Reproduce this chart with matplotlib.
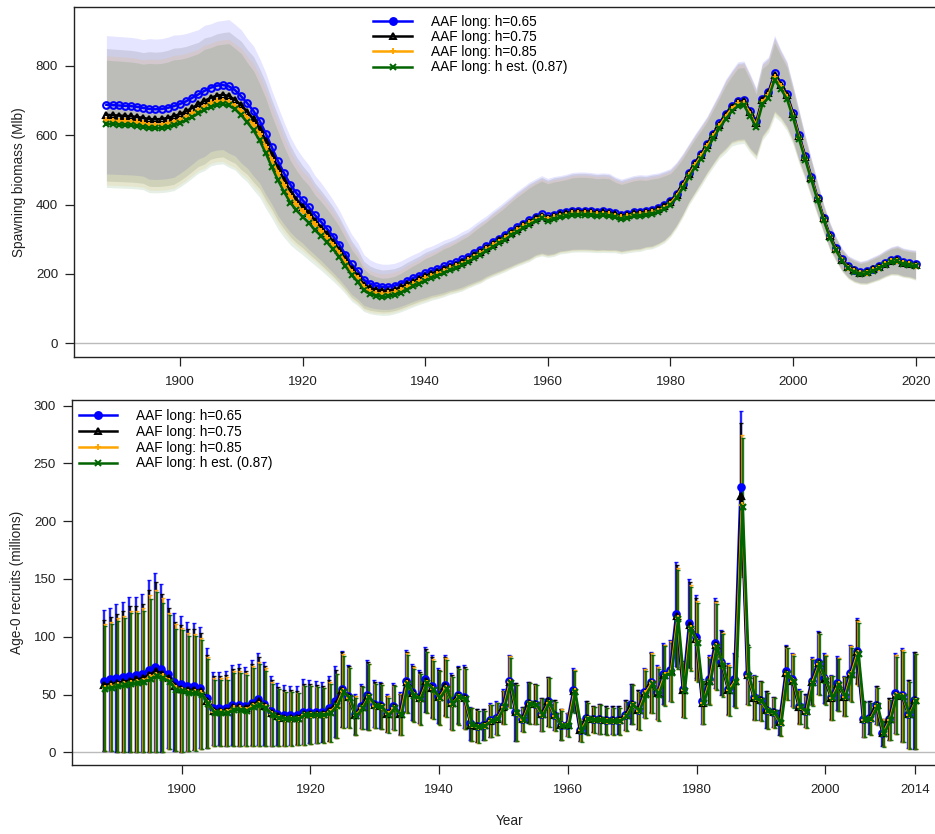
import numpy as np
import matplotlib
matplotlib.use("Agg")
import matplotlib.pyplot as plt
from matplotlib.lines import Line2D

plt.rcParams['font.family'] = ['Liberation Sans', 'DejaVu Sans']

# ---------------- data: spawning biomass (Mlb), 1888-2020 ----------------
ssb_years = np.arange(1888, 2021)

ssb_h65 = [688, 687, 686, 685, 684, 682, 679, 676, 675, 676,
           679, 684, 690, 698, 708, 718, 728, 737, 743, 745,
           741, 730, 712, 692, 670, 642, 605, 565, 525, 490,
           458, 433, 413, 393, 370, 351, 330, 308, 284, 256,
           228, 209, 183, 172, 166, 163, 163, 166, 172, 180,
           188, 195, 203, 209, 215, 222, 228, 234, 242, 250,
           260, 270, 281, 292, 302, 313, 324, 335, 345, 355,
           365, 372, 366, 370, 375, 378, 382, 383, 383, 382,
           380, 381, 380, 375, 370, 374, 378, 380, 382, 385,
           390, 398, 410, 432, 460, 492, 520, 547, 575, 605,
           635, 662, 685, 700, 702, 670, 640, 705, 725, 779,
           750, 720, 665, 600, 540, 480, 420, 362, 312, 275,
           243, 222, 212, 206, 208, 215, 222, 232, 240, 242,
           235, 232, 228]
ssb_h75 = [659, 658, 657, 656, 655, 653, 650, 647, 646, 647,
           650, 655, 661, 669, 679, 689, 699, 708, 714, 717,
           713, 702, 686, 667, 646, 619, 583, 544, 505, 471,
           439, 414, 394, 375, 353, 334, 314, 293, 269, 242,
           214, 195, 169, 159, 154, 151, 152, 155, 161, 170,
           178, 186, 194, 201, 207, 214, 221, 227, 235, 243,
           254, 264, 275, 287, 297, 308, 319, 331, 341, 351,
           361, 368, 362, 367, 372, 375, 379, 380, 380, 379,
           377, 378, 377, 372, 367, 371, 375, 377, 379, 382,
           387, 395, 407, 429, 457, 489, 517, 544, 572, 602,
           631, 658, 681, 696, 698, 666, 636, 701, 721, 774,
           746, 716, 661, 597, 537, 477, 418, 360, 310, 273,
           241, 220, 210, 204, 206, 213, 220, 230, 238, 240,
           233, 230, 226]
ssb_h85 = [643, 642, 641, 640, 639, 637, 634, 631, 630, 631,
           634, 639, 645, 653, 663, 673, 683, 692, 698, 700,
           696, 685, 670, 651, 630, 603, 567, 528, 490, 456,
           425, 401, 381, 365, 343, 325, 305, 284, 261, 234,
           206, 187, 161, 150, 145, 143, 144, 148, 154, 163,
           171, 179, 188, 195, 201, 209, 216, 222, 230, 239,
           250, 260, 271, 283, 293, 304, 316, 327, 337, 347,
           357, 365, 359, 363, 368, 371, 375, 376, 376, 375,
           373, 374, 373, 368, 363, 367, 371, 373, 375, 378,
           383, 391, 403, 425, 453, 485, 513, 540, 568, 598,
           627, 654, 677, 692, 694, 662, 630, 696, 716, 769,
           741, 711, 657, 593, 533, 474, 415, 357, 307, 270,
           239, 218, 208, 202, 204, 211, 218, 228, 236, 238,
           231, 228, 224]
ssb_hest = [633, 632, 631, 630, 629, 627, 624, 621, 620, 621,
            624, 629, 635, 643, 653, 663, 673, 682, 688, 690,
            686, 675, 658, 637, 614, 585, 548, 508, 470, 436,
            406, 384, 365, 348, 327, 310, 291, 271, 249, 223,
            196, 178, 153, 142, 137, 134, 135, 139, 146, 155,
            164, 172, 181, 188, 195, 203, 210, 217, 225, 234,
            245, 255, 267, 278, 288, 299, 311, 322, 332, 342,
            353, 360, 354, 358, 363, 366, 370, 371, 371, 370,
            368, 369, 368, 363, 358, 362, 366, 368, 370, 373,
            378, 386, 398, 420, 447, 479, 507, 533, 561, 591,
            620, 646, 669, 684, 686, 655, 624, 689, 708, 760,
            734, 705, 651, 588, 529, 470, 412, 355, 305, 268,
            237, 216, 206, 200, 202, 209, 216, 226, 234, 236,
            229, 226, 222]
# relative half-width of the 95% interval
ssb_ci = [.29, .29, .29, .29, .29, .29, .29, .30, .30, .30,
          .30, .30, .29, .28, .27, .26, .26, .25, .25, .25,
          .26, .26, .27, .27, .28, .28, .29, .29, .30, .30,
          .30, .30, .30, .31, .31, .32, .33, .34, .35, .36,
          .38, .39, .40, .40, .40, .40, .40, .39, .38, .37,
          .36, .35, .35, .34, .34, .34, .33, .33, .33, .32,
          .32, .32, .31, .31, .31, .31, .31, .31, .31, .31,
          .30, .30, .30, .30, .29, .29, .29, .29, .29, .29,
          .29, .29, .29, .28, .28, .28, .28, .28, .27, .27,
          .26, .25, .23, .21, .19, .17, .16, .15, .14, .14,
          .14, .15, .15, .16, .16, .16, .15, .15, .14, .14,
          .13, .13, .12, .12, .11, .11, .11, .11, .12, .12,
          .13, .14, .15, .15, .16, .16, .16, .16, .16, .17,
          .17, .17, .18]

# ---------------- data: age-0 recruits (millions), 1888-2014 ----------------
rec_years = np.arange(1888, 2015)

rec_h65 = [62, 63, 64, 65, 66, 67, 68, 71, 74, 72,
           68, 61, 59, 57, 57, 56, 47, 38, 38, 38,
           41, 41, 40, 43, 46, 42, 36, 33, 32, 32,
           32, 35, 35, 35, 35, 38, 44, 55, 49, 33,
           40, 50, 42, 41, 34, 40, 34, 62, 52, 48,
           63, 57, 49, 58, 44, 50, 48, 25, 23, 24,
           28, 30, 40, 62, 35, 29, 43, 42, 33, 44,
           32, 24, 24, 54, 19, 30, 29, 29, 28, 28,
           28, 32, 42, 37, 52, 61, 52, 68, 71, 120,
           55, 112, 100, 44, 63, 95, 78, 55, 63, 230,
           68, 48, 45, 37, 35, 26, 70, 63, 40, 36,
           62, 78, 64, 48, 60, 49, 69, 88, 29, 30,
           41, 17, 29, 51, 50, 33, 45]
rec_h75 = [58, 59, 60, 61, 62, 63, 64, 67, 70, 68,
           64, 57, 55, 54, 54, 53, 44, 36, 36, 36,
           39, 39, 38, 41, 44, 40, 34, 31, 30, 30,
           30, 33, 33, 33, 33, 36, 42, 54, 48, 32,
           39, 49, 41, 40, 33, 39, 33, 61, 51, 47,
           62, 56, 48, 57, 43, 49, 47, 24, 23, 24,
           27, 29, 39, 61, 35, 29, 43, 42, 33, 44,
           32, 24, 24, 53, 19, 30, 29, 29, 28, 28,
           28, 32, 42, 37, 51, 60, 51, 67, 70, 118,
           54, 110, 98, 43, 62, 93, 77, 54, 62, 222,
           67, 47, 45, 37, 35, 26, 69, 62, 39, 36,
           61, 77, 63, 47, 59, 48, 68, 87, 29, 30,
           41, 17, 29, 50, 49, 33, 45]
rec_h85 = [56, 57, 58, 59, 60, 61, 62, 65, 67, 66,
           62, 56, 54, 52, 52, 51, 43, 35, 35, 35,
           38, 38, 37, 40, 42, 39, 33, 30, 29, 29,
           29, 32, 32, 32, 32, 35, 40, 53, 47, 32,
           38, 48, 40, 39, 33, 38, 33, 60, 50, 46,
           60, 55, 47, 56, 42, 48, 46, 24, 22, 23,
           27, 29, 39, 61, 34, 28, 42, 41, 32, 43,
           31, 24, 24, 53, 19, 29, 28, 28, 27, 27,
           27, 31, 41, 36, 51, 60, 51, 67, 70, 116,
           54, 108, 96, 43, 62, 92, 76, 54, 62, 214,
           66, 47, 44, 36, 34, 25, 68, 62, 39, 35,
           61, 76, 63, 47, 59, 48, 68, 86, 28, 29,
           40, 17, 28, 50, 49, 32, 44]
rec_hest = [55, 56, 57, 58, 59, 60, 61, 63, 66, 64,
            61, 54, 53, 51, 51, 50, 42, 34, 34, 34,
            37, 37, 36, 39, 41, 38, 32, 30, 29, 29,
            29, 32, 32, 32, 32, 34, 40, 52, 47, 31,
            38, 48, 40, 39, 32, 38, 32, 59, 49, 46,
            60, 54, 47, 55, 42, 48, 46, 24, 22, 23,
            27, 29, 39, 60, 34, 28, 42, 41, 32, 43,
            31, 23, 23, 52, 18, 29, 28, 28, 27, 27,
            27, 31, 41, 36, 50, 59, 50, 66, 69, 115,
            53, 107, 95, 43, 61, 91, 75, 53, 61, 212,
            66, 47, 44, 36, 34, 25, 68, 61, 39, 35,
            60, 76, 62, 47, 58, 48, 67, 85, 28, 29,
            40, 16, 28, 49, 48, 32, 44]
rec_ci = [.98, .98, 1.0, 1.0, 1.04, 1.01, 1.01, 1.1, 1.1, 1.02,
          .95, .98, 1.0, .98, .97, .94, .92, .84, .84, .85,
          .85, .86, .85, .86, .87, .86, .84, .82, .81, .80,
          .78, .80, .78, .76, .74, .74, .70, .60, .55, .52,
          .48, .60, .48, .49, .48, .50, .54, .43, .47, .48,
          .44, .47, .49, .45, .55, .50, .57, .58, .62, .55,
          .52, .48, .37, .36, .71, .36, .42, .41, .43, .49,
          .41, .55, .43, .35, .50, .48, .39, .45, .43, .43,
          .43, .41, .41, .46, .41, .43, .45, .39, .37, .375,
          .44, .34, .36, .44, .33, .41, .36, .40, .37, .285,
          .38, .40, .38, .43, .37, .42, .33, .37, .37, .40,
          .33, .35, .34, .40, .39, .35, .35, .32, .54, .47,
          .40, .70, .63, .68, .81, .90, .93]

labels = ["AAF long: h=0.65", "AAF long: h=0.75", "AAF long: h=0.85",
          "AAF long: h est. (0.87)"]
colors = ["#0000FF", "#000000", "#FFA500", "#006400"]
markers = ["o", "^", "+", "x"]

fig = plt.figure(figsize=(9.35, 8.34), dpi=100)
ax1 = fig.add_axes([74 / 935, 1 - 357 / 834, 874 / 935, 350 / 834])
ax2 = fig.add_axes([72 / 935, 1 - 765 / 834, 875 / 935, 365 / 834])

# ---------------- top panel ----------------
ssb_all = [ssb_h65, ssb_h75, ssb_h85, ssb_hest]
ci = np.array(ssb_ci)
for est, col in zip(ssb_all, colors):
    est = np.array(est, dtype=float)
    ax1.fill_between(ssb_years, est * (1 - ci), est * (1 + ci),
                     color=col, alpha=0.1, lw=0)
for est, col, m in zip(ssb_all, colors, markers):
    open_m = m in ("o", "^")
    ax1.plot(ssb_years, est, color=col, lw=1.8, marker=m, ms=4.8,
             mfc="none" if open_m else col, mew=1.5)
ax1.axhline(0, color="#bbbbbb", lw=1, zorder=0)
ax1.set_xlim(1882.72, 2025.28)
ax1.set_ylim(-39.5, 970)
ax1.set_xticks([1900, 1920, 1940, 1960, 1980, 2000, 2020])
ax1.set_yticks([0, 200, 400, 600, 800])
ax1.set_ylabel("Spawning biomass (Mlb)", fontsize=9.8, color="#222222")
ax1.yaxis.set_label_coords(-0.055, 0.5)

# ---------------- bottom panel ----------------
rec_all = [rec_h65, rec_h75, rec_h85, rec_hest]
rci = np.array(rec_ci)
offsets = [-0.15, -0.05, 0.05, 0.15]
for est, col, off in zip(rec_all, colors, offsets):
    est = np.array(est, dtype=float)
    lo = np.maximum(est * (1 - rci), 0)
    hi = est * (1 + rci)
    ax2.errorbar(rec_years + off, est, yerr=[est - lo, hi - est], fmt="none",
                 ecolor=col, elinewidth=1.7, capsize=1.6, capthick=1,
                 alpha=0.85)
for est, col, m, off in zip(rec_all, colors, markers, offsets):
    ax2.plot(rec_years + off, est, color=col, lw=2, marker=m, ms=4.6,
             mew=1.6)
ax2.axhline(0, color="#bbbbbb", lw=1, zorder=0)
ax2.set_xlim(1882.95, 2018.9)
ax2.set_ylim(-11, 304.9)
ax2.set_xticks([1900, 1920, 1940, 1960, 1980, 2000, 2014])
ax2.set_yticks([0, 50, 100, 150, 200, 250, 300])
ax2.set_ylabel("Age-0 recruits (millions)", fontsize=9.8, color="#222222")
ax2.yaxis.set_label_coords(-0.055, 0.5)
ax2.set_xlabel("Year", fontsize=9.8, color="#222222")
ax2.xaxis.set_label_coords(0.5, -0.135)

for ax in (ax1, ax2):
    for s in ax.spines.values():
        s.set_linewidth(1)
        s.set_color("#222222")
    ax.tick_params(direction="out", length=6.5, width=0.9, labelsize=9.6,
                   colors="#222222", pad=5)
    ax.tick_params(axis="x", pad=7)

handles = [Line2D([], [], color=c, lw=1.8, marker=m, ms=5, mew=1.4,
                  mfc="none" if m == "^" else c)
           for c, m in zip(colors, markers)]
ax1.legend(handles, labels, loc="upper left", bbox_to_anchor=(373 / 935, 1 - 15 / 834),
           bbox_transform=fig.transFigure, frameon=False, fontsize=9.8,
           handlelength=2.9, handletextpad=1.35, labelspacing=0.08,
           borderpad=0, borderaxespad=0)
ax2.legend(handles, labels, loc="upper left", bbox_to_anchor=(79 / 935, 1 - 409 / 834),
           bbox_transform=fig.transFigure, frameon=False, fontsize=9.8,
           handlelength=2.8, handletextpad=1.4, labelspacing=0.13,
           borderpad=0, borderaxespad=0)

fig.savefig("out.png", dpi=100)
